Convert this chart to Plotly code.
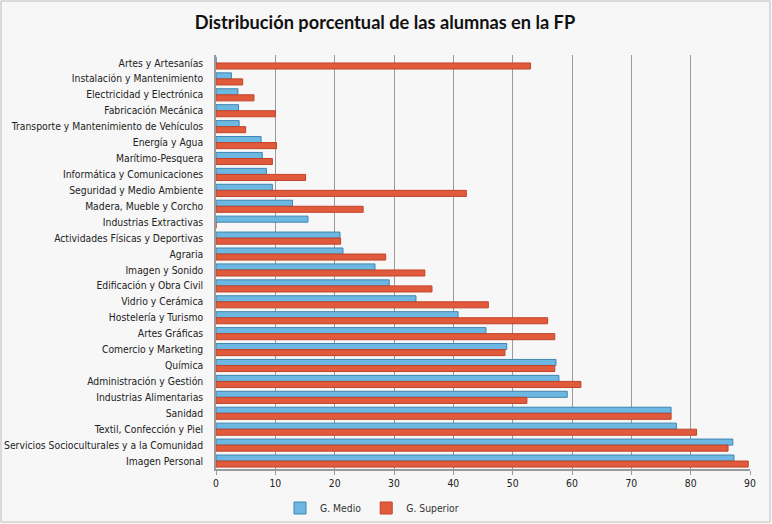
import plotly.graph_objects as go

categorias = [
    "Artes y Artesanías",
    "Instalación y Mantenimiento",
    "Electricidad y Electrónica",
    "Fabricación Mecánica",
    "Transporte y Mantenimiento de Vehículos",
    "Energía y Agua",
    "Marítimo-Pesquera",
    "Informática y Comunicaciones",
    "Seguridad y Medio Ambiente",
    "Madera, Mueble y Corcho",
    "Industrias Extractivas",
    "Actividades Físicas y Deportivas",
    "Agraria",
    "Imagen y Sonido",
    "Edificación y Obra Civil",
    "Vidrio y Cerámica",
    "Hostelería y Turismo",
    "Artes Gráficas",
    "Comercio y Marketing",
    "Química",
    "Administración y Gestión",
    "Industrias Alimentarias",
    "Sanidad",
    "Textil, Confección y Piel",
    "Servicios Socioculturales y a la Comunidad",
    "Imagen Personal",
]

g_medio = [0, 2.6, 3.7, 3.8, 3.9, 7.6, 7.8, 8.5, 9.5, 12.9, 15.5, 20.9, 21.4,
           26.8, 29.2, 33.7, 40.8, 45.5, 49.0, 57.3, 57.8, 59.2, 76.7, 77.6,
           87.1, 87.3]
g_superior = [53.0, 4.5, 6.4, 10.0, 5.0, 10.2, 9.5, 15.1, 42.2, 24.8, 0, 21.0,
              28.6, 35.2, 36.4, 45.9, 55.9, 57.1, 48.7, 57.1, 61.5, 52.4, 76.7,
              81.0, 86.3, 89.7]

x_ticks = [0, 10, 20, 30, 40, 50, 60, 70, 80, 90]

AZUL = "#6cb8e2"
ROJO = "#e15a3b"

fig = go.Figure()
fig.add_trace(go.Bar(
    y=categorias, x=g_medio, orientation="h", name="G. Medio",
    marker=dict(color=AZUL, line=dict(color="#3f86b0", width=1)),
))
fig.add_trace(go.Bar(
    y=categorias, x=g_superior, orientation="h", name="G. Superior",
    marker=dict(color=ROJO, line=dict(color="#c0442a", width=1)),
))

L, R, T, B = 216, 22, 55, 55
W, H = 772, 524
pw, ph = W - L - R, H - T - B

LABEL_FONT = "DejaVu Sans Condensed, Liberation Sans Narrow, sans-serif"

fig.update_layout(
    width=W, height=H,
    margin=dict(l=L, r=R, t=T, b=B, autoexpand=False),
    paper_bgcolor="#f7f7f7",
    plot_bgcolor="#f7f7f7",
    barmode="group",
    bargap=0.24,
    bargroupgap=0.0,
    font=dict(family=LABEL_FONT, size=10.3, color="#222222"),
    title=dict(
        text="<b>Distribución porcentual de las alumnas en la FP</b>",
        x=(385 - L) / pw, xref="paper", xanchor="center",
        y=1 - 23 / H, yanchor="middle",
        font=dict(family="Lato, Open Sans, sans-serif", size=18.2, color="#111111"),
    ),
    legend=dict(
        orientation="h", x=(372 - L) / pw, xanchor="center",
        y=-(508 - (H - B)) / ph, yanchor="middle",
        font=dict(family=LABEL_FONT, size=10.3, color="#333333"),
        itemwidth=30,
        bgcolor="rgba(0,0,0,0)",
    ),
    showlegend=True,
)

fig.update_xaxes(
    range=[0, 90], tickvals=x_ticks, ticktext=[str(t) for t in x_ticks],
    showgrid=True, gridcolor="#9a9a9a", gridwidth=1.2,
    showline=True, linecolor="#9a9a9a", linewidth=1.5,
    ticks="outside", ticklen=4, tickcolor="#9a9a9a",
    zeroline=False, automargin=False,
    tickfont=dict(family=LABEL_FONT, size=10.3, color="#222222"),
)
fig.update_yaxes(
    categoryorder="array", categoryarray=categorias,
    autorange="reversed",
    showgrid=False, showline=True, linecolor="#9a9a9a", linewidth=1.5,
    ticks="", ticklabelstandoff=9, automargin=False,
    tickfont=dict(family=LABEL_FONT, size=10.3, color="#222222"),
)

# chart border
fig.add_shape(
    type="rect", xref="paper", yref="paper",
    x0=(1 - L) / pw, x1=(W - 2 - L) / pw,
    y0=-(H - 2 - (H - B)) / ph, y1=1 + (T - 1) / ph,
    line=dict(color="#bdbdbd", width=1), layer="below",
)

fig.write_html("out.html")
